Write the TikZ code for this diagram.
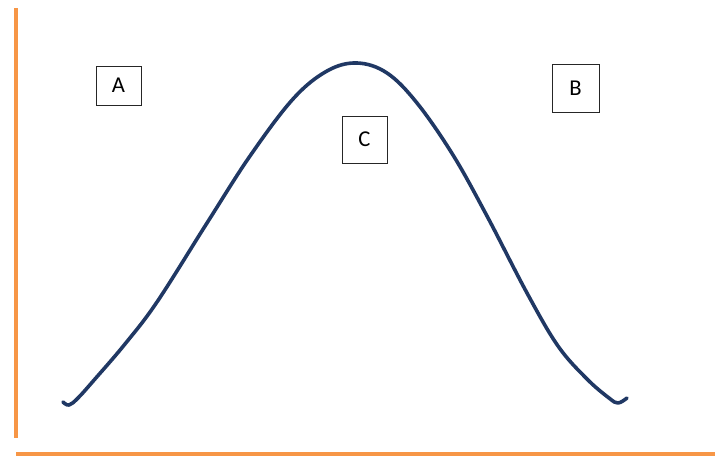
\documentclass[tikz,border=0pt]{standalone}
\usepackage{fontspec}
\setmainfont{Carlito}
\definecolor{axisorange}{HTML}{F79646}
\definecolor{curvenavy}{HTML}{203864}
\begin{document}
\begin{tikzpicture}[x=0.75pt,y=-0.75pt,
  labelbox/.style={draw=black!85,line width=0.7pt,inner sep=0pt,font=\fontsize{17}{19}\selectfont},
  axisline/.style={draw=axisorange,line width=3pt},
  bellcurve/.style={draw=curvenavy,line width=2.7pt,line cap=round,line join=round}]
\useasboundingbox (0,0) rectangle (715,457);
\coordinate (ytop) at (15.5,8);
\coordinate (ybot) at (15.5,438);
\coordinate (xleft) at (16,453.5);
\coordinate (xright) at (715,453.5);
\draw[axisline] (ytop) -- (ybot);
\draw[axisline] (xleft) -- (xright);
\draw[bellcurve] plot[smooth,tension=0.6] coordinates {
 (63,402) (69,405) (78,398) (95,379) (125,344) (157,302)
 (207,223) (250,156) (293,99) (327,71) (357,63) (387,73)
 (417,103) (453,155) (487,216) (527,293) (558,346) (587,379)
 (609,398) (618,403) (627,398)};
\node[labelbox,minimum width=45*0.75pt,minimum height=39*0.75pt] (A) at (118.5,85.5) {A};
\node[labelbox,minimum width=47*0.75pt,minimum height=48*0.75pt] (B) at (575.5,88) {B};
\node[labelbox,minimum width=45*0.75pt,minimum height=47*0.75pt] (C) at (364.5,139.5) {C};
\end{tikzpicture}
\end{document}
